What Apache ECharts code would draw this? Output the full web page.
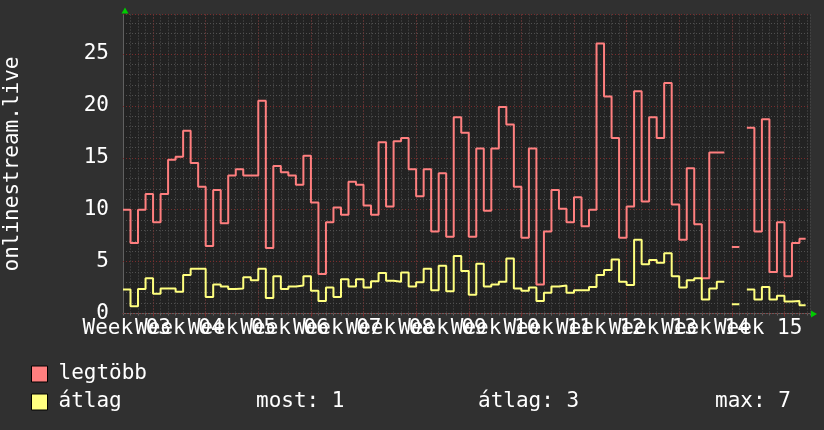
<!DOCTYPE html>
<html><head><meta charset="utf-8">
<script src="https://cdn.jsdelivr.net/npm/echarts@6/dist/echarts.min.js"></script>
<style>html,body{margin:0;padding:0;background:#303030;}#c{width:824px;height:430px;}</style>
</head><body><div id="c"></div>
<script>
// day index of first value (days relative to Monday of the first full week shown)
const firstDay = -4;
const lastDayLength = 0.82;
const weekLabels = ['Week 03','Week 04','Week 05','Week 06','Week 07','Week 08','Week 09','Week 10','Week 11','Week 12','Week 13','Week 14','Week 15'];
const yTickValues = [0,5,10,15,20,25];
const seriesNames = ['legtöbb', 'átlag'];
const legtobb = [10.0,6.8,10.0,11.5,8.8,11.5,14.8,15.1,17.6,14.5,12.2,6.5,11.9,8.7,13.3,13.9,13.3,13.3,20.5,6.3,
  14.2,13.6,13.3,12.4,15.2,10.7,3.8,8.8,10.2,9.5,12.7,12.4,10.4,9.5,16.5,10.3,16.6,16.9,13.9,11.3,
  13.9,7.9,13.5,7.4,18.9,17.4,7.4,15.9,9.9,15.9,19.9,18.2,12.2,7.3,15.9,2.8,7.9,11.9,10.1,8.8,
  11.2,8.4,10.0,26.0,20.9,16.9,7.3,10.3,21.4,10.8,18.9,16.9,22.2,10.5,7.1,14.0,8.6,3.4,15.5,15.5,
  null,6.4,null,17.9,7.9,18.7,4.0,8.8,3.6,6.8,7.2];
const atlag = [2.3,0.7,2.35,3.4,1.9,2.4,2.4,2.1,3.7,4.3,4.3,1.6,2.8,2.6,2.35,2.4,3.5,3.2,4.3,1.5,
  3.6,2.35,2.6,2.7,3.6,2.2,1.2,2.5,1.6,3.3,2.6,3.3,2.5,3.1,3.9,3.15,3.05,3.95,2.6,3.0,
  4.3,2.25,4.6,2.15,5.55,4.1,1.8,4.8,2.6,2.8,3.05,5.3,2.4,2.2,2.5,1.2,2.0,2.6,2.7,2.0,
  2.25,2.25,2.55,3.7,4.2,5.2,3.05,2.75,7.1,4.75,5.15,4.9,5.8,3.6,2.5,3.2,3.4,1.35,2.4,3.05,
  null,0.9,null,2.3,1.35,2.55,1.35,1.7,1.15,1.2,0.8];

function steps(vals){
  const out=[];
  vals.forEach((v,i)=>{
    const d = firstDay+i;
    const w = i===vals.length-1 ? lastDayLength : 1;
    if(v==null){ out.push([d,'-']); return; }
    out.push([d,v]); out.push([d+w,v]);
  });
  return out;
}
const valid = atlag.filter(v=>v!=null);
const lastVal = valid[valid.length-1];
const avgVal = valid.reduce((a,b)=>a+b,0)/valid.length;
const maxVal = Math.max(...valid);

const xMin = -4, xMax = 87.4, yMax = 28.8;
const weekStarts = [];
for(let d=0; d<=xMax; d+=7) weekStarts.push(d);
const labelPos = weekLabels.map((_,i)=> -3.5 + 7*i);
const labelPosEven = labelPos.filter((_,i)=>i%2===0);
const labelPosOdd = labelPos.filter((_,i)=>i%2===1);
const fmtWeek = (v)=>{const i=Math.round((v+3.5)/7);return weekLabels[i]||'';};

const FONT = 'DejaVu Sans Mono';
const FONTCSS = '21px "DejaVu Sans Mono"';
const redC = '#ff7f7f', yelC = '#ffff7f';
const minorC = '#505050', majorC = '#7a2c2c';
const labelStyle = {color:'#ffffff',fontSize:21,fontFamily:FONT,margin:5,hideOverlap:false};
const chart = echarts.init(document.getElementById('c'), null, {renderer:'canvas'});
const baseGraphic = [
    {type:'text',x:256,y:401.5,style:{text:'most: '+Math.round(lastVal),fill:'#fff',font:FONTCSS,verticalAlign:'middle'}},
    {type:'text',x:478,y:401.5,style:{text:'átlag: '+Math.round(avgVal),fill:'#fff',font:FONTCSS,verticalAlign:'middle'}},
    {type:'text',x:715,y:401.5,style:{text:'max: '+Math.round(maxVal),fill:'#fff',font:FONTCSS,verticalAlign:'middle'}},
    {type:'polygon',shape:{points:[[121.5,13.5],[128.5,13.5],[125,7.5]]},style:{fill:'#00cc00'}},
    {type:'polygon',shape:{points:[[811,310.5],[811,317.5],[817,314]]},style:{fill:'#00cc00'}}
];
chart.setOption({
  backgroundColor:'#303030',
  animation:false,
  grid:{left:123,right:14,top:14.5,bottom:116.5,containLabel:false,outerBoundsMode:'none',
        show:true,backgroundColor:'#222222',borderWidth:0},
  xAxis:[
    {type:'value',min:xMin,max:xMax,position:'bottom',z:1,
     axisLine:{show:false,onZero:false},
     axisTick:{show:true,customValues:weekStarts,length:3,lineStyle:{color:majorC}},
     axisLabel:Object.assign({customValues:labelPosEven,formatter:fmtWeek},labelStyle),
     splitLine:{show:true,lineStyle:{color:majorC,width:1,type:[1,2]}}},
    {type:'value',min:xMin,max:xMax,position:'bottom',z:1,
     axisLine:{show:false,onZero:false},
     axisTick:{show:false},
     axisLabel:Object.assign({customValues:labelPosOdd,formatter:fmtWeek},labelStyle),
     splitLine:{show:false}},
    {type:'value',min:xMin,max:xMax,interval:1,position:'bottom',z:0,
     axisLine:{show:true,onZero:false,lineStyle:{color:'#606060',width:1}},
     axisTick:{show:true,length:2,lineStyle:{color:'#606060'}},
     axisLabel:{show:false},
     splitLine:{show:true,lineStyle:{color:minorC,width:1,type:[1,2]}}}
  ],
  yAxis:[
    {type:'value',min:0,max:yMax,interval:5,position:'left',z:1,
     axisLine:{show:false,onZero:false},axisTick:{show:false},
     axisLabel:{show:false},
     splitLine:{show:true,lineStyle:{color:majorC,width:1,type:[1,2]}},
     name:'onlinestream.live',nameLocation:'middle',nameGap:100,
     nameTextStyle:{color:'#ffffff',fontSize:21,fontFamily:FONT}},
    {type:'value',min:0,max:yMax,interval:1,position:'left',z:0,
     axisLine:{show:true,onZero:false,lineStyle:{color:'#606060'}},
     axisTick:{show:false},axisLabel:{show:false},
     splitLine:{show:true,lineStyle:{color:minorC,width:1,type:[1,2]}}}
  ],
  legend:{orient:'vertical',left:31,top:363.5,padding:0,itemWidth:16,itemHeight:16,itemGap:7,
    icon:'rect',
    textStyle:{color:'#ffffff',fontSize:21,fontFamily:FONT,padding:[0,0,0,6]},
    itemStyle:{borderColor:'#000',borderWidth:1},
    data:seriesNames},
  graphic:baseGraphic,
  series:[
    {name:seriesNames[0],type:'line',xAxisIndex:2,yAxisIndex:1,data:steps(legtobb),showSymbol:false,
     lineStyle:{color:redC,width:2},itemStyle:{color:redC},connectNulls:false},
    {name:seriesNames[1],type:'line',xAxisIndex:2,yAxisIndex:1,data:steps(atlag),showSymbol:false,
     lineStyle:{color:yelC,width:2},itemStyle:{color:yelC},connectNulls:false}
  ]
});
// y tick labels placed through the y axis scale, right edge 14px left of the plot
const mctx = document.createElement('canvas').getContext('2d');
mctx.font = FONTCSS;
const yLabelGraphics = yTickValues.map(v=>{
  const p = chart.convertToPixel({xAxisIndex:2,yAxisIndex:0},[xMin,v]);
  const w = mctx.measureText(String(v)).width;
  return {type:'text',x:p[0]-14-w,y:p[1],
    style:{text:String(v),fill:'#fff',font:FONTCSS,align:'left',verticalAlign:'middle'}};
});
chart.setOption({graphic:baseGraphic.concat(yLabelGraphics)});
</script></body></html>
